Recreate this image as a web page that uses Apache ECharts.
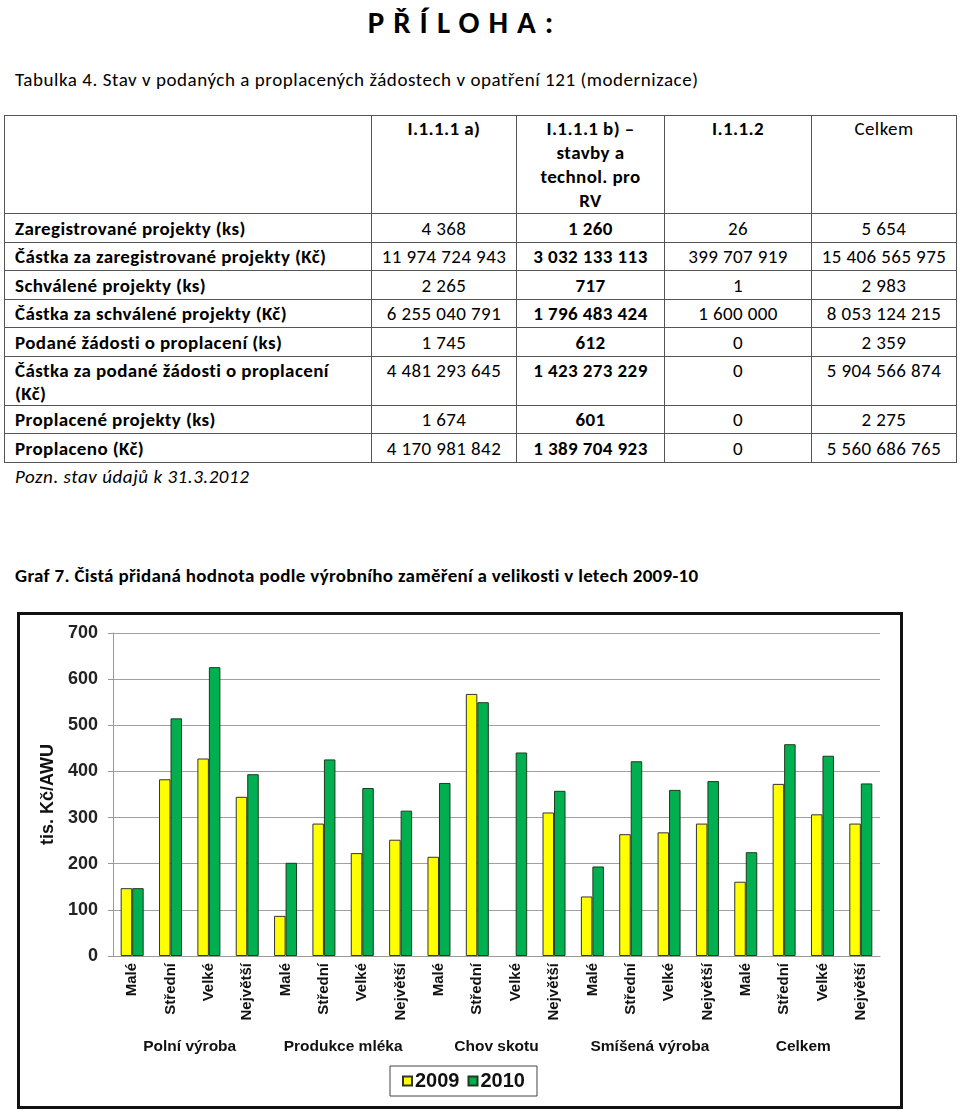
<!DOCTYPE html>
<html>
<head>
<meta charset="utf-8">
<script src="https://cdn.jsdelivr.net/npm/echarts@6/dist/echarts.min.js"></script>
<style>
  body {
    margin: 0;
    width: 960px;
    height: 1112px;
    position: relative;
    overflow: hidden;
    background: #fff;
    color: #000;
    font-family: Carlito, Calibri, Lato, sans-serif;
  }
  .title {
    position: absolute;
    left: 0;
    top: 5px;
    width: 930px;
    text-align: center;
    font-size: 31px;
    line-height: 34px;
    font-weight: bold;
    letter-spacing: 9px;
  }
  .cap {
    position: absolute;
    left: 15px;
    font-size: 19px;
    letter-spacing: 0.55px;
    line-height: 24px;
    white-space: nowrap;
  }
  #tab {
    position: absolute;
    left: 4px;
    top: 115px;
    border-collapse: collapse;
    font-size: 19px;
    letter-spacing: 0.4px;
    table-layout: fixed;
  }
  #tab td {
    border: 1px solid #555;
    padding: 0;
    text-align: center;
    vertical-align: middle;
    white-space: pre-line;
  }
  #tab td.lbl {
    text-align: left;
    padding-left: 10px;
    font-weight: 600;
  }
  #tab tr.head td {
    vertical-align: top;
    line-height: 24px;
    padding-top: 1px;
  }
  #tab tr.tall td {
    vertical-align: top;
    line-height: 23px;
    padding-top: 2px;
  }
  #tab .b { font-weight: bold; }
  #chart {
    position: absolute;
    left: 17px;
    top: 612px;
    width: 886px;
    height: 497px;
    box-sizing: border-box;
    border: 3px solid #111;
  }
</style>
</head>
<body>
<div class="title">PŘÍLOHA:</div>
<div class="cap" style="top:68px;">Tabulka 4. Stav v podaných a proplacených žádostech v opatření 121 (modernizace)</div>
<table id="tab"></table>
<div class="cap" style="top:465px;font-style:italic;">Pozn. stav údajů k 31.3.2012</div>
<div class="cap" style="top:564px;font-weight:600;letter-spacing:0.3px;">Graf 7. Čistá přidaná hodnota podle výrobního zaměření a velikosti v letech 2009-10</div>
<div id="chart"></div>

<script>
// tabulka 4
var tableHead = ['', 'I.1.1.1 a)', 'I.1.1.1 b) –\nstavby a\ntechnol. pro\nRV', 'I.1.1.2', 'Celkem'];
var rowLabels = [
  'Zaregistrované projekty (ks)',
  'Částka za zaregistrované projekty (Kč)',
  'Schválené projekty (ks)',
  'Částka za schválené projekty (Kč)',
  'Podané žádosti o proplacení (ks)',
  'Částka za podané žádosti o proplacení\n(Kč)',
  'Proplacené projekty (ks)',
  'Proplaceno (Kč)'
];
var colA = ['4 368', '11 974 724 943', '2 265', '6 255 040 791', '1 745', '4 481 293 645', '1 674', '4 170 981 842'];
var colB = ['1 260', '3 032 133 113', '717', '1 796 483 424', '612', '1 423 273 229', '601', '1 389 704 923'];
var colC = ['26', '399 707 919', '1', '1 600 000', '0', '0', '0', '0'];
var colTotal = ['5 654', '15 406 565 975', '2 983', '8 053 124 215', '2 359', '5 904 566 874', '2 275', '5 560 686 765'];

// graf 7
var groups = ['Polní výroba', 'Produkce mléka', 'Chov skotu', 'Smíšená výroba', 'Celkem'];
var sizes = ['Malé', 'Střední', 'Velké', 'Největší'];
var values2009 = [147, 383, 428, 345, 87, 287, 223, 252, 215, 568, null, 311, 129, 264, 268, 287, 161, 373, 307, 287];
var values2010 = [147, 515, 626, 394, 202, 426, 364, 315, 375, 550, 441, 358, 194, 422, 360, 379, 225, 459, 434, 374];
var yMin = 0;
var yMax = 700;
var yStep = 100;

// sestaveni tabulky
(function () {
  var colWidths = [367, 145, 148, 147, 145];
  var rowHeights = [29, 28, 29, 28, 29, 49, 28, 29];
  var tab = document.getElementById('tab');
  var html = '<colgroup>';
  colWidths.forEach(function (w) { html += '<col style="width:' + w + 'px">'; });
  html += '</colgroup><tr class="head" style="height:98px">';
  tableHead.forEach(function (h, i) {
    html += '<td class="' + (i > 0 && i < 4 ? 'b' : '') + '">' + h + '</td>';
  });
  html += '</tr>';
  for (var i = 0; i < rowLabels.length; i++) {
    html += '<tr' + (rowHeights[i] > 40 ? ' class="tall"' : '') + ' style="height:' + rowHeights[i] + 'px">' +
      '<td class="lbl">' + rowLabels[i] + '</td>' +
      '<td>' + colA[i] + '</td>' +
      '<td class="b">' + colB[i] + '</td>' +
      '<td>' + colC[i] + '</td>' +
      '<td>' + colTotal[i] + '</td></tr>';
  }
  tab.innerHTML = html;
})();

var categories = [];
groups.forEach(function () {
  sizes.forEach(function (s) { categories.push(s); });
});

var chart = echarts.init(document.getElementById('chart'));
var arial = "'Liberation Sans', Arial, sans-serif";
var narrow = "'Liberation Sans Narrow', 'Liberation Sans', Arial, sans-serif";

var option = {
  animation: false,
  backgroundColor: '#fff',
  legend: {
    left: 370,
    top: 451,
    padding: [5, 12],
    itemGap: 8,
    itemWidth: 9,
    itemHeight: 9,
    icon: 'rect',
    borderColor: '#444',
    borderWidth: 1,
    textStyle: {fontFamily: narrow, fontWeight: 'bold', fontSize: 20, color: '#111', padding: [0, 0, 0, -2]},
    data: ['2009', '2010']
  },
  grid: {
    left: 93,
    right: 20,
    top: 18,
    bottom: 150,
    containLabel: false
  },
  xAxis: [
    {
      type: 'category',
      data: categories,
      position: 'bottom',
      axisLine: {lineStyle: {color: '#999', width: 1}},
      axisTick: {interval: 0, length: 72, lineStyle: {color: '#c0c0c0'}},
      axisLabel: {
        interval: 0,
        rotate: 90,
        margin: 7,
        fontFamily: arial,
        fontWeight: 'bold',
        fontSize: 15,
        color: '#111'
      }
    },
    {
      type: 'category',
      data: groups,
      position: 'bottom',
      axisLine: {show: false},
      axisTick: {interval: 0, length: 101, lineStyle: {color: '#c0c0c0'}},
      axisLabel: {
        interval: 0,
        margin: 83,
        fontFamily: narrow,
        fontWeight: 'bold',
        fontSize: 15.5,
        color: '#111'
      }
    }
  ],
  yAxis: {
    type: 'value',
    min: yMin,
    max: yMax,
    interval: yStep,
    name: 'tis. Kč/AWU',
    nameLocation: 'middle',
    nameRotate: 90,
    nameGap: 44,
    nameTextStyle: {fontFamily: arial, fontWeight: 'bold', fontSize: 18, color: '#111'},
    axisLine: {show: true, lineStyle: {color: '#999', width: 1}},
    axisTick: {show: true, length: 5, lineStyle: {color: '#999'}},
    axisLabel: {margin: 15, fontFamily: arial, fontWeight: 'bold', fontSize: 18, color: '#222'},
    splitLine: {lineStyle: {color: '#a0a0a0', width: 1.2}}
  },
  series: [
    {
      name: '2009',
      type: 'bar',
      xAxisIndex: 0,
      barWidth: 11.5,
      barGap: '0%',
      itemStyle: {color: '#ffff00', borderColor: '#333', borderWidth: 1},
      data: values2009
    },
    {
      name: '2010',
      type: 'bar',
      xAxisIndex: 0,
      barWidth: 11.5,
      barGap: '0%',
      itemStyle: {color: '#00b050', borderColor: '#1e3a1e', borderWidth: 1},
      data: values2010
    }
  ]
};
chart.setOption(option);
</script>
</body>
</html>
